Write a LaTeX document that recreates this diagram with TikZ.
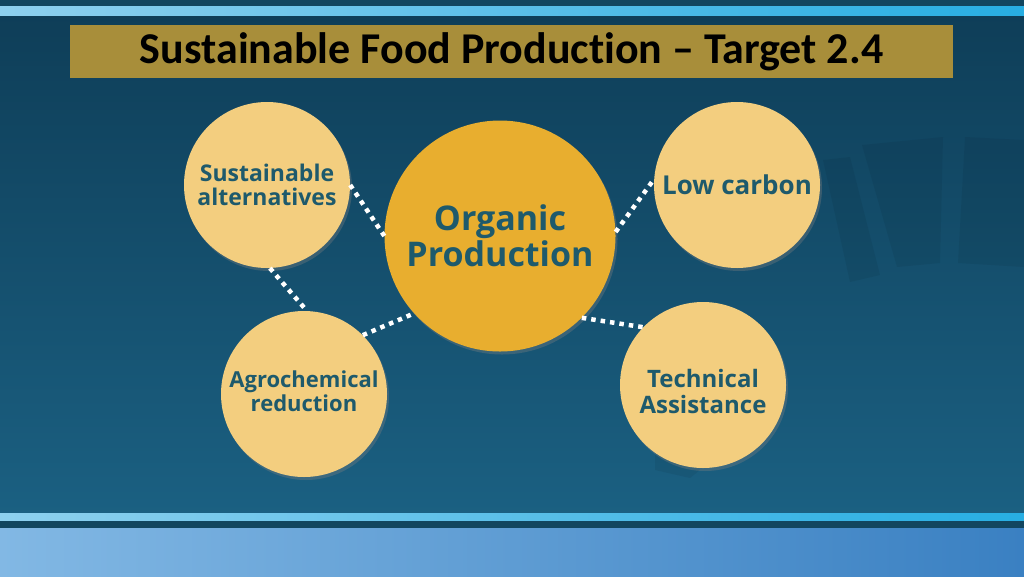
\documentclass[tikz,border=0pt]{standalone}
\usepackage{fontspec}
\setmainfont[Ligatures=NoCommon]{Carlito}
\newfontfamily\circfont{Open Sans}
\usetikzlibrary{shadows}
\definecolor{bgtop}{HTML}{0E3D57}
\definecolor{bgbot}{HTML}{1B6183}
\definecolor{stripdark}{HTML}{12465F}
\definecolor{bandL}{HTML}{8ED0EE}
\definecolor{bandR}{HTML}{27AEE3}
\definecolor{footL}{HTML}{82B8E4}
\definecolor{footR}{HTML}{3A80C2}
\definecolor{titlebg}{HTML}{A88E3A}
\definecolor{lightc}{HTML}{F3CE7F}
\definecolor{goldc}{HTML}{E8AE2F}
\definecolor{tealtext}{HTML}{1E5A6C}
\begin{document}
\begin{tikzpicture}[x=1pt,y=-1pt]
\tikzset{
  smallc/.style={circle, fill=lightc, minimum size=166pt, inner sep=0pt, text=tealtext,
    align=center,
    drop shadow={opacity=0.35, shadow xshift=2pt, shadow yshift=-3pt}},
  bigc/.style={circle, fill=goldc, minimum size=231pt, inner sep=0pt, text=tealtext,
    font=\circfont\bfseries\fontsize{34}{36}\selectfont, align=center,
    drop shadow={opacity=0.35, shadow xshift=2pt, shadow yshift=-3pt}},
  ctext/.style={text=tealtext, align=center, inner sep=0pt},
  dots/.style={white, line width=4.5pt, dash pattern=on 4.5pt off 5pt},
  wedge/.style={fill=black, opacity=0.06}
}
\useasboundingbox (0,0) rectangle (1024,576);
% background
\shade[top color=bgtop, bottom color=bgbot] (0,0) rectangle (1024,528);
\fill[stripdark] (0,0) rectangle (1024,6);
\shade[left color=bandL, right color=bandR] (0,6) rectangle (1024,15);
\shade[left color=bandL, right color=bandR] (0,513) rectangle (1024,521);
\fill[stripdark] (0,521) rectangle (1024,528);
\shade[left color=footL, right color=footR] (0,528) rectangle (1024,576);
% faint decorative wedges
\fill[wedge] (862,145) -- (943,137) -- (940,263) -- (897,267) -- cycle;
\fill[wedge] (965,137) -- (1024,140) -- (1024,267) -- (958,263) -- cycle;
\fill[wedge] (823,160) -- (850,157) -- (880,275) -- (850,282) -- cycle;
\fill[wedge] (655,420) -- (700,470) -- (690,478) -- (655,470) -- cycle;
% title
\node[fill=titlebg, minimum width=883pt, minimum height=53pt, inner sep=0pt,
  font=\bfseries\fontsize{44}{46}\selectfont, text=black] (title) at (511.5,51.5)
  {Sustainable Food Production – Target 2.4};
% circles
\node[bigc] (op) at (500,236) {Organic\\Production};
\node[smallc, font=\circfont\bfseries\fontsize{23}{24}\selectfont] (sa) at (267,185) {Sustainable\\alternatives};
\node[smallc, font=\circfont\bfseries\fontsize{26}{28}\selectfont] (lc) at (737,185) {Low carbon};
\node[smallc] (ar) at (304,394) {};
\node[ctext, font=\circfont\bfseries\fontsize{22}{24}\selectfont] (art) at ([yshift=2.5pt]ar.center) {Agrochemical\\reduction};
\node[smallc] (ta) at (703,385) {};
\node[ctext, font=\circfont\bfseries\fontsize{24}{26}\selectfont] (tat) at ([yshift=-6pt]ta.center) {Technical\\Assistance};
% connectors
\draw[dots] (sa.0) -- (op.180);
\draw[dots] (sa.-88) -- (ar.88);
\draw[dots] (ar.45) -- (op.222);
\draw[dots] (op.2) -- (lc.176);
\draw[dots] (op.-45) -- (ta.136);
\end{tikzpicture}
\end{document}
